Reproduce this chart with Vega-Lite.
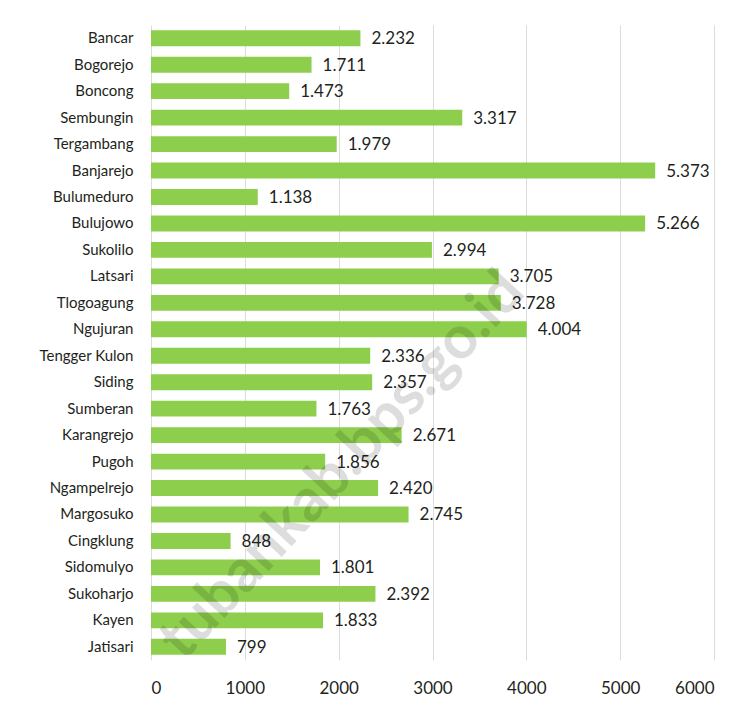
{
  "$schema": "https://vega.github.io/schema/vega-lite/v6.json",
  "width": 563,
  "height": 635,
  "autosize": "none",
  "padding": {"left": 151, "top": 25, "right": 35, "bottom": 47},
  "background": "white",
  "config": {
    "locale": {"number": {"decimal": ",", "thousands": ".", "grouping": [3], "currency": ["", ""]}},
    "view": {"stroke": null},
    "font": "Lato",
    "axis": {"labelFont": "Lato", "labelColor": "#231f20", "labelFontSize": 15, "domain": false, "ticks": false, "title": null}
  },
  "data": {"values": [
    {"desa": "Bancar", "jumlah": 2232},
    {"desa": "Bogorejo", "jumlah": 1711},
    {"desa": "Boncong", "jumlah": 1473},
    {"desa": "Sembungin", "jumlah": 3317},
    {"desa": "Tergambang", "jumlah": 1979},
    {"desa": "Banjarejo", "jumlah": 5373},
    {"desa": "Bulumeduro", "jumlah": 1138},
    {"desa": "Bulujowo", "jumlah": 5266},
    {"desa": "Sukolilo", "jumlah": 2994},
    {"desa": "Latsari", "jumlah": 3705},
    {"desa": "Tlogoagung", "jumlah": 3728},
    {"desa": "Ngujuran", "jumlah": 4004},
    {"desa": "Tengger Kulon", "jumlah": 2336},
    {"desa": "Siding", "jumlah": 2357},
    {"desa": "Sumberan", "jumlah": 1763},
    {"desa": "Karangrejo", "jumlah": 2671},
    {"desa": "Pugoh", "jumlah": 1856},
    {"desa": "Ngampelrejo", "jumlah": 2420},
    {"desa": "Margosuko", "jumlah": 2745},
    {"desa": "Cingklung", "jumlah": 848},
    {"desa": "Sidomulyo", "jumlah": 1801},
    {"desa": "Sukoharjo", "jumlah": 2392},
    {"desa": "Kayen", "jumlah": 1833},
    {"desa": "Jatisari", "jumlah": 799}
  ]},
  "encoding": {
    "y": {"field": "desa", "type": "nominal", "sort": null,
      "scale": {"paddingInner": 0.4, "paddingOuter": 0.2},
      "axis": {"labelPadding": 18, "grid": false}},
    "x": {"field": "jumlah", "type": "quantitative",
      "scale": {"domain": [0, 6000], "nice": false},
      "axis": {"values": [0, 1000, 2000, 3000, 4000, 5000, 6000], "format": "d", "labelPadding": 20, "labelFontSize": 17, "grid": true, "gridColor": "#dcdcdc", "gridWidth": 1}}
  },
  "layer": [
    {"mark": {"type": "bar", "color": "#8dcf4d"}},
    {"mark": {"type": "text", "align": "left", "baseline": "middle", "dx": 11, "dy": 1, "fontSize": 17, "color": "#231f20"},
      "encoding": {"text": {"field": "jumlah", "type": "quantitative", "format": ",d"}}},
    {"data": {"values": [{"wm": "tubankab.bps.go.id", "x": 1990, "desa": "Pugoh"}]},
      "mark": {"type": "text", "angle": -47, "fontSize": 60, "fontWeight": "bold", "font": "Lato", "color": "#000000", "opacity": 0.13, "align": "center", "baseline": "middle", "dy": 6},
      "encoding": {"text": {"field": "wm"}, "x": {"field": "x", "type": "quantitative"}, "y": {"field": "desa", "type": "nominal", "sort": null}}}
  ]
}
